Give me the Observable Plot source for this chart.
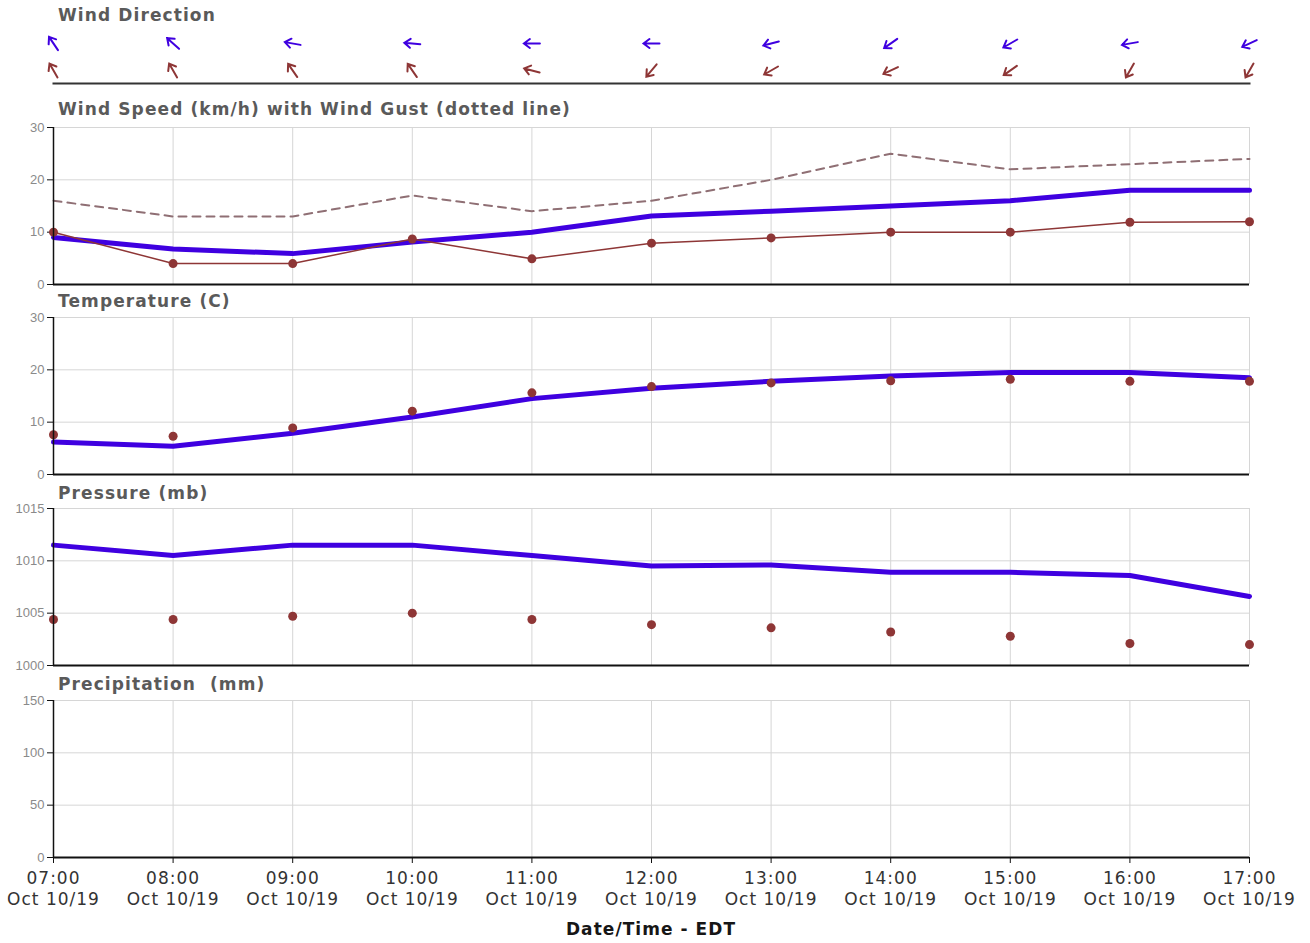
<!DOCTYPE html>
<html><head><meta charset="utf-8">
<script src="https://cdn.jsdelivr.net/npm/d3@7"></script>
<script src="https://cdn.jsdelivr.net/npm/@observablehq/plot@0.6"></script>
<style>
body{margin:0;background:#fff;}
#wrap{position:relative;width:1310px;height:943px;overflow:hidden;background:#fff;}
.ttl{position:absolute;left:58px;font-family:'DejaVu Sans',Verdana,sans-serif;font-weight:bold;font-size:17px;line-height:17px;letter-spacing:1.1px;color:#5a5a5a;white-space:pre;}
.xttl{position:absolute;left:0;width:1302px;text-align:center;font-family:'DejaVu Sans',Verdana,sans-serif;font-weight:bold;font-size:17px;line-height:17px;letter-spacing:1.05px;color:#161616;white-space:pre;}
g[aria-label="x-axis tick label"]{letter-spacing:1px;}
</style></head><body><div id="wrap"></div>
<script>
// ---- data ----
const hours = ["07:00","08:00","09:00","10:00","11:00","12:00","13:00","14:00","15:00","16:00","17:00"];
const dateLabel = "Oct 10/19";
// wind direction (degrees wind blows FROM), two stations
const windDirA = [146, 132, 100, 95, 90, 90, 75, 55, 60, 80, 65];
const windDirB = [150, 150, 145, 145, 105, 40, 60, 65, 55, 30, 30];
// wind speed / gust (km/h)
const windSpeedA = [9, 6.8, 5.9, 8.1, 10, 13.1, 14, 15, 16, 18, 18];
const windSpeedB = [10, 4, 4, 8.7, 4.9, 7.9, 8.9, 10, 10, 11.9, 12];
const windGustB = [16, 13, 13, 17, 14, 16, 20, 25, 22, 23, 24];
// temperature (C)
const tempA = [6.2, 5.4, 7.9, 11.0, 14.5, 16.5, 17.8, 18.8, 19.5, 19.5, 18.5];
const tempB = [7.6, 7.3, 8.9, 12.1, 15.6, 16.8, 17.5, 17.9, 18.2, 17.8, 17.8];
// pressure (mb)
const pressA = [1011.5, 1010.5, 1011.5, 1011.5, 1010.5, 1009.5, 1009.6, 1008.9, 1008.9, 1008.6, 1006.6];
const pressB = [1004.4, 1004.4, 1004.7, 1005.0, 1004.4, 1003.9, 1003.6, 1003.2, 1002.8, 1002.1, 1002.0];
// precipitation (mm)
const precipA = [0, 0, 0, 0, 0, 0, 0, 0, 0, 0, 0];
// axis ticks
const speedTicks = [0, 10, 20, 30];
const tempTicks = [0, 10, 20, 30];
const pressTicks = [1000, 1005, 1010, 1015];
const precipTicks = [0, 50, 100, 150];

// ---- build ----
const BLUE = "#3f00e0", RED = "#8e3636", GUST = "#8f6f74";
const times = hours.map(h => new Date(2019, 9, 10, +h.slice(0, 2), +h.slice(3, 5)));
const rows = times.map((t, i) => ({
  time: t, dirA: windDirA[i], dirB: windDirB[i],
  speedA: windSpeedA[i], speedB: windSpeedB[i], gustB: windGustB[i],
  tempA: tempA[i], tempB: tempB[i], pressA: pressA[i], pressB: pressB[i], precipA: precipA[i]
}));

const W = 1310, ML = 53, MR = 61;
const wrap = document.getElementById("wrap");
function put(el, top) { el.style.position = "absolute"; el.style.left = "0px"; el.style.top = top + "px"; wrap.appendChild(el); }
function title(text, top) { const d = document.createElement("div"); d.className = "ttl"; d.textContent = text; d.style.top = top + "px"; wrap.appendChild(d); }
const xDomain = [times[0], times[times.length - 1]];

// arrow glyph with a wide chevron head
const arrowShape = {
  draw(ctx, l) {
    const w = 4.5, h = 6;
    ctx.moveTo(0, 0); ctx.lineTo(0, -l);
    ctx.moveTo(-w, -l + h); ctx.lineTo(0, -l); ctx.lineTo(w, -l + h);
  }
};

// wind direction panel
title("Wind Direction", 7.3);
put(Plot.plot({
  width: W, height: 60, marginLeft: ML, marginRight: MR, marginTop: 0, marginBottom: 2,
  style: {background: "transparent", overflow: "visible"},
  x: {type: "time", domain: xDomain, axis: null},
  y: {type: "point", domain: ["A", "B"], range: [18, 45], padding: 0, axis: null},
  marks: [
    Plot.frame({anchor: "bottom", stroke: "#333", strokeWidth: 2}),
    Plot.vector(rows, {x: "time", y: () => "A", rotate: d => (d.dirA + 180) % 360, length: 16, anchor: "middle", shape: arrowShape, stroke: BLUE, strokeWidth: 2, strokeLinejoin: "miter"}),
    Plot.vector(rows, {x: "time", y: () => "B", rotate: d => (d.dirB + 180) % 360, length: 16, anchor: "middle", shape: arrowShape, stroke: RED, strokeWidth: 2, strokeLinejoin: "miter"})
  ]
}), 25);

function panel({frameTop, yDomain, yTicks, marks, bottomAxis = false}) {
  const mt = 10, fh = 157, mb = bottomAxis ? 60 : 4;
  const axisMarks = [
    Plot.gridX(times, {stroke: "#d6d6d6", strokeOpacity: 1, strokeWidth: 1}),
    Plot.gridY(yTicks, {stroke: "#d6d6d6", strokeOpacity: 1, strokeWidth: 1}),
    Plot.axisY(yTicks, {tickSize: 6, tickPadding: 3, stroke: "#111", fill: "#8a8a8a", fontSize: 13, fontFamily: "'Liberation Sans', Arial, sans-serif", label: null, tickFormat: d => String(d)})
  ];
  if (bottomAxis) axisMarks.push(Plot.axisX(times, {
    tickSize: 6, tickPadding: 5, stroke: "#111", fill: "#333", fontSize: 17, lineHeight: 1.27,
    fontFamily: "'DejaVu Sans', Verdana, sans-serif", label: null,
    tickFormat: d => hours[times.findIndex(t => +t === +d)] + "\n" + dateLabel
  }));
  const svg = Plot.plot({
    width: W, height: fh + mt + mb, marginLeft: ML, marginRight: MR, marginTop: mt, marginBottom: mb,
    style: {background: "transparent", overflow: "visible"},
    x: {type: "time", domain: xDomain, axis: bottomAxis ? undefined : null},
    y: {domain: [yDomain[0], yDomain[1]]},
    marks: [
      ...axisMarks,
      ...marks,
      Plot.ruleX([times[0]], {stroke: "#111", strokeWidth: 1.5}),
      Plot.ruleY([yDomain[0]], {stroke: "#111", strokeWidth: 2})
    ]
  });
  put(svg, frameTop - mt);
}

// wind speed
title("Wind Speed (km/h) with Wind Gust (dotted line)", 100.6);
panel({frameTop: 127, yDomain: [0, 30], yTicks: speedTicks, marks: [
  Plot.line(rows, {x: "time", y: "gustB", stroke: GUST, strokeWidth: 2, strokeDasharray: "8,6"}),
  Plot.line(rows, {x: "time", y: "speedA", stroke: BLUE, strokeWidth: 5}),
  Plot.line(rows, {x: "time", y: "speedB", stroke: RED, strokeWidth: 1.5}),
  Plot.dot(rows, {x: "time", y: "speedB", fill: RED, r: 4.5})
]});

// temperature
title("Temperature (C)", 292.6);
panel({frameTop: 317, yDomain: [0, 30], yTicks: tempTicks, marks: [
  Plot.line(rows, {x: "time", y: "tempA", stroke: BLUE, strokeWidth: 5}),
  Plot.dot(rows, {x: "time", y: "tempB", fill: RED, r: 4.5})
]});

// pressure
title("Pressure (mb)", 484.6);
panel({frameTop: 508, yDomain: [1000, 1015], yTicks: pressTicks, marks: [
  Plot.line(rows, {x: "time", y: "pressA", stroke: BLUE, strokeWidth: 5}),
  Plot.dot(rows, {x: "time", y: "pressB", fill: RED, r: 4.5})
]});

// precipitation
title("Precipitation  (mm)", 675.6);
panel({frameTop: 700, yDomain: [0, 150], yTicks: precipTicks, bottomAxis: true, marks: [
  Plot.rectY(rows, {x: "time", y: "precipA", interval: d3.timeHour, fill: BLUE, inset: 20})
]});

const xt = document.createElement("div");
xt.className = "xttl"; xt.textContent = "Date/Time - EDT"; xt.style.top = "920.6px";
wrap.appendChild(xt);
</script></body></html>
